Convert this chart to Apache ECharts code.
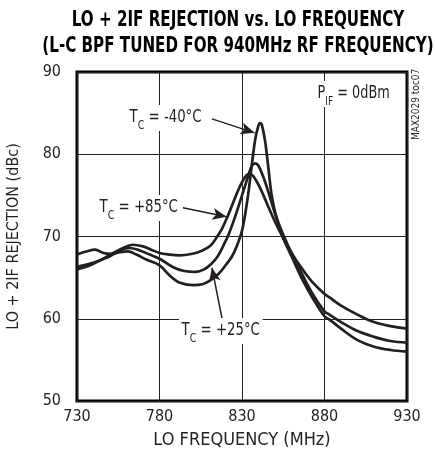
<!DOCTYPE html>
<html>
<head>
<meta charset="utf-8">
<script src="https://cdn.jsdelivr.net/npm/echarts@6/dist/echarts.min.js"></script>
<style>
  html, body { margin: 0; padding: 0; background: #fff; }
  #chart { width: 435px; height: 459px; }
</style>
</head>
<body>
<div id="chart"></div>
<script>
// x axis is drawn as offset from 730 MHz so the ticks start on a multiple of the interval
const F0 = 730
const xTicks = [730, 780, 830, 880, 930]
const yTicks = [50, 60, 70, 80, 90]

// TC = -40°C
const freqM40 = [730, 736, 741, 746, 751, 756, 761, 766, 772, 780, 786, 792, 800, 806, 811, 816, 820, 824, 827, 830, 832, 834, 836, 838, 840, 841, 842, 844, 846, 848, 851, 855, 860, 866, 872, 880, 883, 890, 900, 910, 920, 930]
const rejM40 = [67.8, 68.2, 68.4, 68.0, 67.9, 68.1, 68.2, 67.8, 67.2, 66.5, 65.3, 64.4, 64.1, 64.2, 64.7, 65.5, 66.5, 67.6, 68.9, 70.7, 72.8, 75.5, 78.8, 81.8, 83.5, 83.8, 83.6, 81.6, 78.3, 75.0, 72.2, 69.8, 67.6, 65.0, 62.8, 60.3, 59.9, 58.8, 57.4, 56.6, 56.2, 56.0]

// TC = +25°C
const freqP25 = [730, 738, 745, 750, 756, 762, 768, 774, 780, 788, 795, 802, 807, 811, 815, 819, 822, 826, 830, 834, 836, 838, 840, 843, 846, 850, 855, 860, 866, 872, 880, 883, 890, 900, 910, 920, 930]
const rejP25 = [66.3, 66.7, 67.2, 67.6, 68.3, 68.6, 68.3, 67.8, 67.3, 66.3, 65.8, 65.7, 66.0, 66.6, 67.5, 69.0, 70.3, 72.5, 75.0, 77.5, 78.6, 78.9, 78.6, 77.2, 75.4, 72.8, 70.2, 68.0, 65.6, 63.3, 60.9, 60.5, 59.6, 58.5, 57.8, 57.3, 57.1]

// TC = +85°C
const freqP85 = [730, 738, 745, 752, 758, 764, 770, 775, 780, 786, 792, 800, 806, 811, 815, 818, 821, 824, 827, 830, 833, 835, 837, 840, 843, 846, 850, 855, 860, 866, 872, 880, 883, 890, 900, 910, 920, 930]
const rejP85 = [66.0, 66.5, 67.2, 68.0, 68.6, 69.0, 68.8, 68.4, 68.0, 67.8, 67.7, 67.9, 68.3, 68.9, 70.0, 71.0, 72.3, 73.8, 75.3, 76.6, 77.5, 77.6, 77.3, 76.3, 75.0, 73.6, 71.8, 69.8, 68.0, 66.2, 64.6, 63.0, 62.6, 61.6, 60.5, 59.6, 59.1, 58.8]

const INK = '#231f20'
const FONT = "'DejaVu Sans Condensed', 'Liberation Sans Narrow', sans-serif"

function toPoints(freq, rej) {
  return freq.map((f, i) => [f - F0, rej[i]])
}

function curve(name, freq, rej) {
  return {
    name: name,
    type: 'line',
    data: toPoints(freq, rej),
    showSymbol: false,
    smooth: 0.35,
    lineStyle: { width: 2.7, color: INK },
    z: 3
  }
}

// arrow from label to curve, in data units (MHz, dBc)
function arrow(f1, v1, f2, v2) {
  return [{ coord: [f1 - F0, v1] }, { coord: [f2 - F0, v2] }]
}

// text is squeezed sideways to look like the condensed face of the original
function tcLabel(text, x, y, sx) {
  return {
    type: 'text',
    x: x,
    y: y,
    scaleX: sx,
    z: 10,
    style: {
      text: text,
      backgroundColor: '#fff',
      padding: [2, 3, 2, 3],
      rich: {
        a: { fontFamily: FONT, fontSize: 17, fill: INK, lineHeight: 22, verticalAlign: 'middle' },
        s: { fontFamily: FONT, fontSize: 12, fill: INK, lineHeight: 22, verticalAlign: 'bottom', padding: [0, 0, -3, 0] }
      }
    }
  }
}

function titleLine(text, y) {
  return {
    type: 'text',
    x: 238,
    y: y,
    scaleX: 0.765,
    z: 10,
    style: {
      text: text,
      fontFamily: FONT,
      fontSize: 22,
      fontWeight: 'bold',
      fill: '#000',
      align: 'center',
      verticalAlign: 'top'
    }
  }
}

const chart = echarts.init(document.getElementById('chart'))
const seriesM40 = curve('TC = -40°C', freqM40, rejM40)
seriesM40.markLine = {
  silent: true,
  symbol: ['none', 'arrow'],
  symbolSize: [9, 14],
  label: { show: false },
  lineStyle: { color: INK, width: 1.5, type: 'solid' },
  data: [
    arrow(811.8, 84.3, 837.6, 82.6),
    arrow(794.2, 73.5, 820.6, 72.4),
    arrow(818.5, 59.4, 811.8, 66.2)
  ]
}

chart.setOption({
  animation: false,
  grid: {
    left: 77,
    right: 28,
    top: 72,
    bottom: 58,
    containLabel: false,
    outerBoundsMode: 'none',
    show: true,
    borderColor: '#000',
    borderWidth: 3
  },
  xAxis: {
    type: 'value',
    min: xTicks[0] - F0,
    max: xTicks[xTicks.length - 1] - F0,
    interval: 50,
    name: 'LO FREQUENCY (MHz)',
    nameLocation: 'middle',
    nameGap: 30,
    nameTextStyle: { fontFamily: FONT, fontSize: 18, color: INK },
    axisLine: { show: false },
    axisTick: { show: false },
    axisLabel: {
      margin: 8,
      fontFamily: FONT,
      fontSize: 16,
      color: INK,
      formatter: v => String(v + F0)
    },
    splitLine: { show: true, lineStyle: { color: '#222', width: 1 } }
  },
  yAxis: {
    type: 'value',
    min: yTicks[0],
    max: yTicks[yTicks.length - 1],
    interval: 10,
    name: 'LO + 2IF REJECTION (dBc)',
    nameLocation: 'middle',
    nameGap: 55,
    nameTextStyle: { fontFamily: FONT, fontSize: 16, color: INK },
    axisLine: { show: false },
    axisTick: { show: false },
    axisLabel: { margin: 16, fontFamily: FONT, fontSize: 16, color: INK },
    splitLine: { show: true, lineStyle: { color: '#222', width: 1 } }
  },
  series: [
    seriesM40,
    curve('TC = +25°C', freqP25, rejP25),
    curve('TC = +85°C', freqP85, rejP85)
  ],
  graphic: [
    titleLine('LO + 2IF REJECTION vs. LO FREQUENCY', 9),
    titleLine('(L-C BPF TUNED FOR 940MHz RF FREQUENCY)', 35),
    tcLabel('{a|T}{s|C}{a| = -40°C}', 127, 105, 0.87),
    tcLabel('{a|T}{s|C}{a| = +85°C}', 97, 195, 0.87),
    tcLabel('{a|T}{s|C}{a| = +25°C}', 179, 318, 0.87),
    tcLabel('{a|P}{s|IF}{a| = 0dBm}', 315, 81, 0.84),
    {
      type: 'text',
      x: 411,
      y: 140,
      rotation: Math.PI / 2,
      z: 10,
      style: {
        text: 'MAX2029 toc07',
        fontFamily: FONT,
        fontSize: 10,
        fill: INK,
        verticalAlign: 'top'
      }
    }
  ]
})
</script>
</body>
</html>
